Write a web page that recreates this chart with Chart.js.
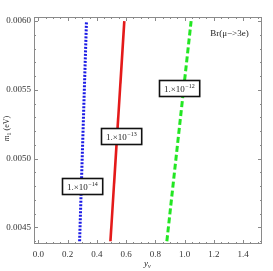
<!DOCTYPE html>
<html>
<head>
<meta charset="utf-8">
<script src="https://cdn.jsdelivr.net/npm/chart.js@4"></script>
<style>
  html, body { margin: 0; padding: 0; background: #fff; }
  #wrap { width: 273px; height: 271px; }
</style>
</head>
<body>
<div id="wrap"><canvas id="chart" width="273" height="271"></canvas></div>
<script>
// contour lines: m1 (eV) against y_nu
var blueX = [0.282, 0.329];
var blueY = [0.00440, 0.00600];
var redX = [0.493, 0.588];
var redY = [0.00440, 0.00600];
var greenX = [0.879, 1.045];
var greenY = [0.00440, 0.00600];

var seriesNames = ['1.\u00d710', '1.\u00d710', '1.\u00d710'];
var seriesExp = ['\u221214', '\u221213', '\u221212'];
var labelX = [0.305, 0.571, 0.967];
var labelY = [0.004801, 0.005159, 0.005511];

var xTicks = [0.0, 0.2, 0.4, 0.6, 0.8, 1.0, 1.2, 1.4];
var yTicks = [0.0045, 0.0050, 0.0055, 0.0060];

var titleText = 'Br(\u03bc\u2212>3e)';

(function () {
    var serif = '"Liberation Serif", "DejaVu Serif", serif';
    var frameColor = '#8a8a8a';

    function toPoints(xs, ys) {
        return xs.map(function (x, i) {
            return { x: x, y: ys[i] };
        });
    }

    var framePlugin = {
        id: 'frameTicks',
        afterDraw: function (chart) {
            var ctx = chart.ctx;
            var a = chart.chartArea;
            var xs = chart.scales.x;
            var ys = chart.scales.y;
            ctx.save();
            ctx.strokeStyle = frameColor;
            ctx.lineWidth = 1;
            ctx.strokeRect(a.left + 0.5, a.top + 0.5, a.right - a.left - 1, a.bottom - a.top - 1);

            // inward ticks on all four sides
            ctx.beginPath();
            var xStep = (xTicks[1] - xTicks[0]) / 4;
            for (var v = xTicks[0] - xStep; v <= xs.max; v += xStep) {
                if (v < xs.min) continue;
                var major = xTicks.some(function (t) { return Math.abs(t - v) < 1e-9; });
                var len = major ? 4 : 2;
                var px = Math.round(xs.getPixelForValue(v)) + 0.5;
                ctx.moveTo(px, a.bottom);
                ctx.lineTo(px, a.bottom - len);
                ctx.moveTo(px, a.top);
                ctx.lineTo(px, a.top + len);
            }
            var yStep = (yTicks[1] - yTicks[0]) / 5;
            for (var w = yTicks[0] - yStep; w <= ys.max; w += yStep) {
                if (w < ys.min) continue;
                var majorY = yTicks.some(function (t) { return Math.abs(t - w) < 1e-9; });
                var lenY = majorY ? 4 : 2;
                var py = Math.round(ys.getPixelForValue(w)) + 0.5;
                ctx.moveTo(a.left, py);
                ctx.lineTo(a.left + lenY, py);
                ctx.moveTo(a.right, py);
                ctx.lineTo(a.right - lenY, py);
            }
            ctx.stroke();

            // contour labels
            for (var i = 0; i < labelX.length; i++) {
                var cx = xs.getPixelForValue(labelX[i]);
                var cy = ys.getPixelForValue(labelY[i]);
                ctx.font = '9px ' + serif;
                var w1 = ctx.measureText(seriesNames[i]).width;
                ctx.font = '6px ' + serif;
                var w2 = ctx.measureText(seriesExp[i]).width;
                var bw = w1 + w2 + 11;
                var bh = 17;
                var bx = Math.round(cx - bw / 2);
                var by = Math.round(cy - bh / 2);
                ctx.fillStyle = '#fff';
                ctx.fillRect(bx, by, bw, bh);
                ctx.strokeStyle = '#111';
                ctx.lineWidth = 1.6;
                ctx.strokeRect(bx + 0.5, by + 0.5, bw - 1, bh - 1);
                ctx.fillStyle = '#222';
                ctx.textBaseline = 'alphabetic';
                ctx.textAlign = 'left';
                ctx.font = '9px ' + serif;
                ctx.fillText(seriesNames[i], bx + 5, by + 12);
                ctx.font = '6px ' + serif;
                ctx.fillText(seriesExp[i], bx + 5 + w1 + 0.5, by + 8);
            }

            // plot title inside the frame
            ctx.fillStyle = '#222';
            ctx.font = '9px ' + serif;
            ctx.textAlign = 'center';
            ctx.textBaseline = 'middle';
            ctx.fillText(titleText, xs.getPixelForValue(1.307), ys.getPixelForValue(0.005906));

            // x axis title: y_nu
            ctx.textAlign = 'left';
            ctx.textBaseline = 'alphabetic';
            ctx.font = 'italic 9px ' + serif;
            var xc = (a.left + a.right) / 2 - 4;
            ctx.fillText('y', xc, 266);
            var wy = ctx.measureText('y').width;
            ctx.font = 'italic 6px ' + serif;
            ctx.fillText('\u03bd', xc + wy, 268);

            // y axis title: m_1 (eV)
            ctx.translate(9, (a.top + a.bottom) / 2 - 2);
            ctx.rotate(-Math.PI / 2);
            ctx.font = 'italic 8px ' + serif;
            var parts = [['m', 'italic 8px ', 0], ['1', '6px ', 2], [' (eV)', '8px ', 0]];
            var total = 0;
            parts.forEach(function (p) {
                ctx.font = p[1] + serif;
                total += ctx.measureText(p[0]).width;
            });
            var xx = -total / 2;
            parts.forEach(function (p) {
                ctx.font = p[1] + serif;
                ctx.fillText(p[0], xx, p[2]);
                xx += ctx.measureText(p[0]).width;
            });
            ctx.restore();
        }
    };

    var canvas = document.getElementById('chart');
    new Chart(canvas, {
        type: 'scatter',
        data: {
            datasets: [
                {
                    label: '1e-14',
                    data: toPoints(blueX, blueY),
                    showLine: true,
                    borderColor: '#1a1ae6',
                    borderWidth: 3,
                    borderDash: [2, 1.5],
                    pointRadius: 0
                },
                {
                    label: '1e-13',
                    data: toPoints(redX, redY),
                    showLine: true,
                    borderColor: '#e41a1a',
                    borderWidth: 2.6,
                    pointRadius: 0
                },
                {
                    label: '1e-12',
                    data: toPoints(greenX, greenY),
                    showLine: true,
                    borderColor: '#22e622',
                    borderWidth: 3,
                    borderDash: [6, 3],
                    pointRadius: 0
                }
            ]
        },
        options: {
            responsive: false,
            animation: false,
            devicePixelRatio: 1,
            layout: { padding: { top: 17, right: 11, left: 0, bottom: 0 } },
            plugins: {
                legend: { display: false },
                tooltip: { enabled: false }
            },
            scales: {
                x: {
                    type: 'linear',
                    min: -0.03,
                    max: 1.53,
                    grid: { display: false, drawTicks: false },
                    border: { display: false },
                    afterBuildTicks: function (scale) {
                        scale.ticks = xTicks.map(function (v) { return { value: v }; });
                    },
                    afterFit: function (scale) { scale.height = 27; },
                    ticks: {
                        padding: 5,
                        maxRotation: 0,
                        autoSkip: false,
                        color: '#333',
                        font: { family: serif, size: 9 },
                        callback: function (v) { return Number(v).toFixed(1); }
                    }
                },
                y: {
                    type: 'linear',
                    min: 0.00438,
                    max: 0.00603,
                    grid: { display: false, drawTicks: false },
                    border: { display: false },
                    afterBuildTicks: function (scale) {
                        scale.ticks = yTicks.map(function (v) { return { value: v }; });
                    },
                    afterFit: function (scale) { scale.width = 34; },
                    ticks: {
                        padding: 3,
                        autoSkip: false,
                        color: '#333',
                        font: { family: serif, size: 9 },
                        callback: function (v) { return Number(v).toFixed(4); }
                    }
                }
            }
        },
        plugins: [framePlugin]
    });
})();
</script>
</body>
</html>
